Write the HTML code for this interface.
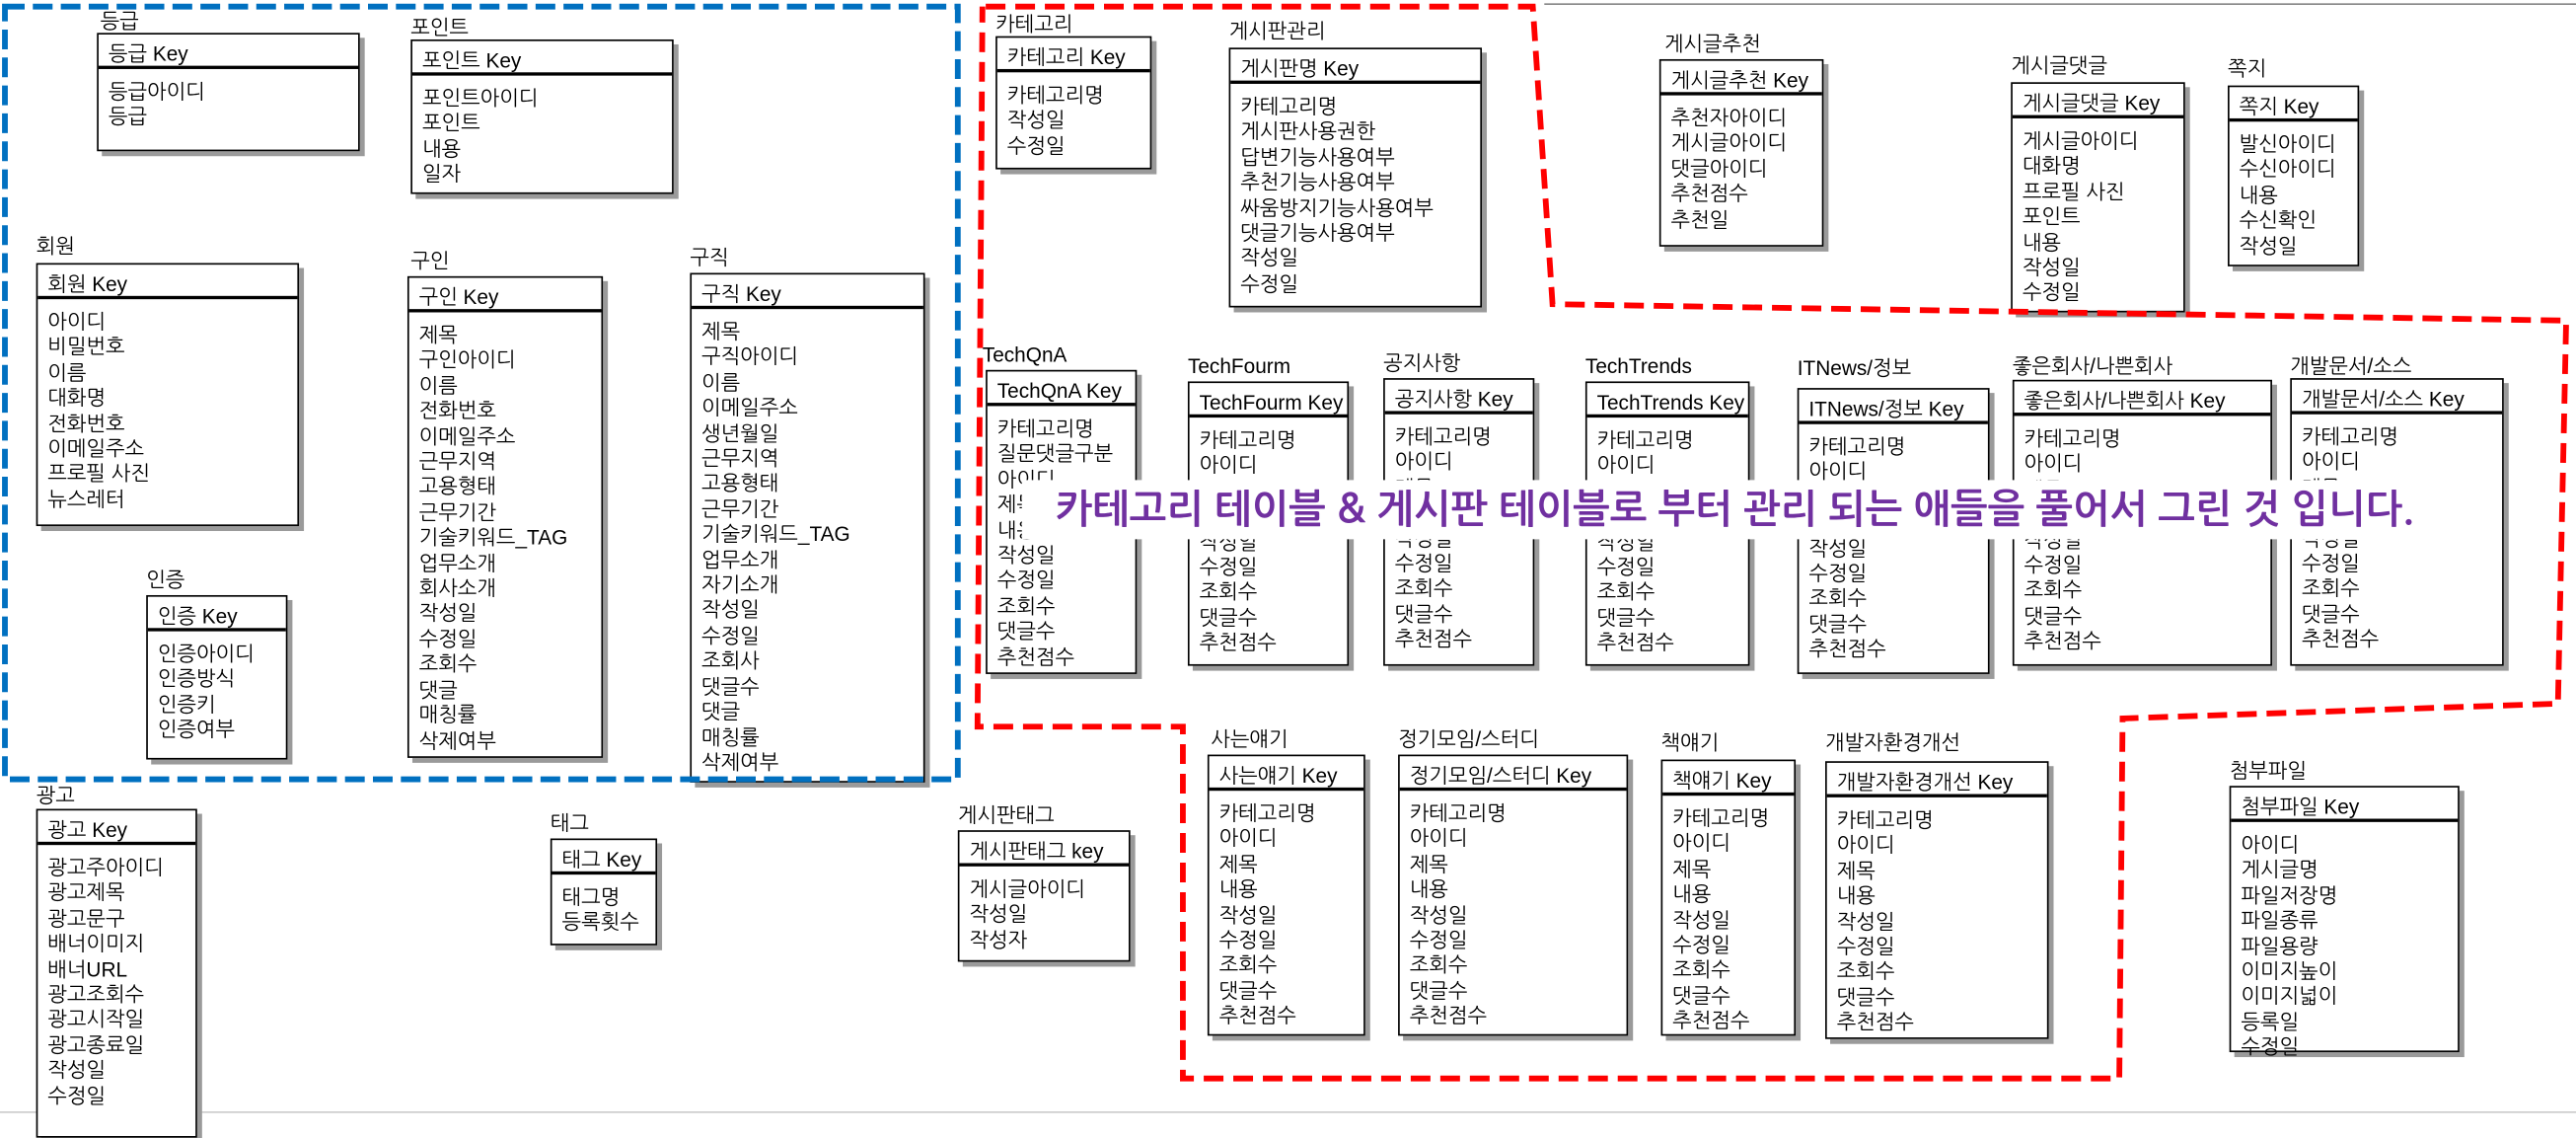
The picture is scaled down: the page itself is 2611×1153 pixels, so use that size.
<!DOCTYPE html>
<html><head><meta charset="utf-8"><style>
html,body{margin:0;padding:0;background:#fff;}
body{width:2611px;height:1131px;overflow:hidden;position:relative;}
#c{position:absolute;left:0;top:0;width:1568px;height:679px;transform-origin:0 0;transform:scale(1.6652,1.6657);font-family:"Liberation Sans","NanumGothic","Noto Sans CJK KR",sans-serif;font-size:12.5px;color:#000;}
.t{position:absolute;white-space:nowrap;line-height:14px;}
.b{position:absolute;border:1px solid #000;background:#fff;box-shadow:3px 3px 0 #9a9a9a;box-sizing:border-box;}
.h{height:21px;border-bottom:2px solid #000;padding:5px 0 0 6px;box-sizing:border-box;white-space:nowrap;line-height:14px;}
.r{padding:7px 0 0 6px;line-height:15.4px;white-space:nowrap;}
#ban{position:absolute;left:622px;top:292px;width:868px;height:36px;background:#fff;color:#7030a0;font-weight:bold;font-size:24px;line-height:36px;text-align:center;white-space:nowrap;font-family:"NanumGothic","Noto Sans CJK KR",sans-serif;}
</style></head><body><div id="c">
<div style="position:absolute;left:940px;top:2px;width:628px;height:1px;background:#888"></div>
<div style="position:absolute;left:0;top:676px;width:1568px;height:1px;background:#ccc"></div>

<div class="t" style="left:61px;top:6px">등급</div>
<div class="b" style="left:59px;top:20px;width:160px;height:72px"><div class="h">등급 Key</div><div class="r">등급아이디<br>등급</div></div>

<div class="t" style="left:250px;top:10px">포인트</div>
<div class="b" style="left:250px;top:24px;width:160px;height:94px"><div class="h">포인트 Key</div><div class="r">포인트아이디<br>포인트<br>내용<br>일자</div></div>

<div class="t" style="left:22px;top:143px">회원</div>
<div class="b" style="left:22px;top:160px;width:160px;height:160px"><div class="h">회원 Key</div><div class="r">아이디<br>비밀번호<br>이름<br>대화명<br>전화번호<br>이메일주소<br>프로필 사진<br>뉴스레터</div></div>

<div class="t" style="left:250px;top:152px">구인</div>
<div class="b" style="left:248px;top:168px;width:119px;height:293px"><div class="h">구인 Key</div><div class="r">제목<br>구인아이디<br>이름<br>전화번호<br>이메일주소<br>근무지역<br>고용형태<br>근무기간<br>기술키워드_TAG<br>업무소개<br>회사소개<br>작성일<br>수정일<br>조회수<br>댓글<br>매칭률<br>삭제여부</div></div>

<div class="t" style="left:420px;top:150px">구직</div>
<div class="b" style="left:420px;top:166px;width:143px;height:310px"><div class="h">구직 Key</div><div class="r">제목<br>구직아이디<br>이름<br>이메일주소<br>생년월일<br>근무지역<br>고용형태<br>근무기간<br>기술키워드_TAG<br>업무소개<br>자기소개<br>작성일<br>수정일<br>조회사<br>댓글수<br>댓글<br>매칭률<br>삭제여부</div></div>

<div class="t" style="left:89px;top:346px">인증</div>
<div class="b" style="left:89px;top:362px;width:86px;height:100px"><div class="h">인증 Key</div><div class="r">인증아이디<br>인증방식<br>인증키<br>인증여부</div></div>

<div class="t" style="left:22px;top:477px">광고</div>
<div class="b" style="left:22px;top:492px;width:98px;height:200px"><div class="h">광고 Key</div><div class="r">광고주아이디<br>광고제목<br>광고문구<br>배너이미지<br>배너URL<br>광고조회수<br>광고시작일<br>광고종료일<br>작성일<br>수정일</div></div>

<div class="t" style="left:335px;top:494px">태그</div>
<div class="b" style="left:335px;top:510px;width:65px;height:65px"><div class="h">태그 Key</div><div class="r">태그명<br>등록횟수</div></div>

<div class="t" style="left:583px;top:489px">게시판태그</div>
<div class="b" style="left:583px;top:505px;width:105px;height:80px"><div class="h">게시판태그 key</div><div class="r">게시글아이디<br>작성일<br>작성자</div></div>

<div class="t" style="left:606px;top:8px">카테고리</div>
<div class="b" style="left:606px;top:22px;width:95px;height:81px"><div class="h">카테고리 Key</div><div class="r">카테고리명<br>작성일<br>수정일</div></div>

<div class="t" style="left:748px;top:12px">게시판관리</div>
<div class="b" style="left:748px;top:29px;width:154px;height:158px"><div class="h">게시판명 Key</div><div class="r">카테고리명<br>게시판사용권한<br>답변기능사용여부<br>추천기능사용여부<br>싸움방지기능사용여부<br>댓글기능사용여부<br>작성일<br>수정일</div></div>

<div class="t" style="left:1013px;top:20px">게시글추천</div>
<div class="b" style="left:1010px;top:36px;width:100px;height:114px"><div class="h">게시글추천 Key</div><div class="r">추천자아이디<br>게시글아이디<br>댓글아이디<br>추천점수<br>추천일</div></div>

<div class="t" style="left:1224px;top:33px">게시글댓글</div>
<div class="b" style="left:1224px;top:50px;width:106px;height:140px"><div class="h">게시글댓글 Key</div><div class="r">게시글아이디<br>대화명<br>프로필 사진<br>포인트<br>내용<br>작성일<br>수정일</div></div>

<div class="t" style="left:1356px;top:35px">쪽지</div>
<div class="b" style="left:1356px;top:52px;width:80px;height:110px"><div class="h">쪽지 Key</div><div class="r">발신아이디<br>수신아이디<br>내용<br>수신확인<br>작성일</div></div>

<div class="t" style="left:598px;top:209px">TechQnA</div>
<div class="b" style="left:600px;top:225px;width:92px;height:185px"><div class="h">TechQnA Key</div><div class="r">카테고리명<br>질문댓글구분<br>아이디<br>제목<br>내용<br>작성일<br>수정일<br>조회수<br>댓글수<br>추천점수</div></div>

<div class="t" style="left:723px;top:216px">TechFourm</div>
<div class="b" style="left:723px;top:232px;width:98px;height:173px"><div class="h">TechFourm Key</div><div class="r">카테고리명<br>아이디<br>제목<br>내용<br>작성일<br>수정일<br>조회수<br>댓글수<br>추천점수</div></div>

<div class="t" style="left:842px;top:214px">공지사항</div>
<div class="b" style="left:842px;top:230px;width:92px;height:175px"><div class="h">공지사항 Key</div><div class="r">카테고리명<br>아이디<br>제목<br>내용<br>작성일<br>수정일<br>조회수<br>댓글수<br>추천점수</div></div>

<div class="t" style="left:965px;top:216px">TechTrends</div>
<div class="b" style="left:965px;top:232px;width:100px;height:173px"><div class="h">TechTrends Key</div><div class="r">카테고리명<br>아이디<br>제목<br>내용<br>작성일<br>수정일<br>조회수<br>댓글수<br>추천점수</div></div>

<div class="t" style="left:1094px;top:217px">ITNews/정보</div>
<div class="b" style="left:1094px;top:236px;width:117px;height:174px"><div class="h">ITNews/정보 Key</div><div class="r">카테고리명<br>아이디<br>제목<br>내용<br>작성일<br>수정일<br>조회수<br>댓글수<br>추천점수</div></div>

<div class="t" style="left:1225px;top:216px">좋은회사/나쁜회사</div>
<div class="b" style="left:1225px;top:231px;width:158px;height:174px"><div class="h">좋은회사/나쁜회사 Key</div><div class="r">카테고리명<br>아이디<br>제목<br>내용<br>작성일<br>수정일<br>조회수<br>댓글수<br>추천점수</div></div>

<div class="t" style="left:1394px;top:216px">개발문서/소스</div>
<div class="b" style="left:1394px;top:230px;width:130px;height:175px"><div class="h">개발문서/소스 Key</div><div class="r">카테고리명<br>아이디<br>제목<br>내용<br>작성일<br>수정일<br>조회수<br>댓글수<br>추천점수</div></div>

<div class="t" style="left:737px;top:443px">사는얘기</div>
<div class="b" style="left:735px;top:459px;width:96px;height:171px"><div class="h">사는얘기 Key</div><div class="r">카테고리명<br>아이디<br>제목<br>내용<br>작성일<br>수정일<br>조회수<br>댓글수<br>추천점수</div></div>

<div class="t" style="left:851px;top:443px">정기모임/스터디</div>
<div class="b" style="left:851px;top:459px;width:140px;height:171px"><div class="h">정기모임/스터디 Key</div><div class="r">카테고리명<br>아이디<br>제목<br>내용<br>작성일<br>수정일<br>조회수<br>댓글수<br>추천점수</div></div>

<div class="t" style="left:1011px;top:445px">책얘기</div>
<div class="b" style="left:1011px;top:462px;width:82px;height:168px"><div class="h">책얘기 Key</div><div class="r">카테고리명<br>아이디<br>제목<br>내용<br>작성일<br>수정일<br>조회수<br>댓글수<br>추천점수</div></div>

<div class="t" style="left:1111px;top:445px">개발자환경개선</div>
<div class="b" style="left:1111px;top:463px;width:136px;height:169px"><div class="h">개발자환경개선 Key</div><div class="r">카테고리명<br>아이디<br>제목<br>내용<br>작성일<br>수정일<br>조회수<br>댓글수<br>추천점수</div></div>

<div class="t" style="left:1357px;top:462px">첨부파일</div>
<div class="b" style="left:1357px;top:478px;width:140px;height:162px"><div class="h">첨부파일 Key</div><div class="r">아이디<br>게시글명<br>파일저장명<br>파일종류<br>파일용량<br>이미지높이<br>이미지넓이<br>등록일<br>수정일</div></div>

<svg style="position:absolute;left:0;top:0" width="1568" height="679">
<rect x="3" y="4" width="580" height="470" fill="none" stroke="#0070c0" stroke-width="3.5" stroke-dasharray="12,5"/>
<polyline points="600,4 933,4 945,185 1562,195 1557,428 1292,437 1290,656 720,656 720,442 595,442 598,4" fill="none" stroke="#ff0000" stroke-width="3.5" stroke-dasharray="12,6"/>
</svg>
<div id="ban">카테고리 테이블 &amp; 게시판 테이블로 부터 관리 되는 애들을 풀어서 그린 것 입니다.</div>
</div></body></html>
